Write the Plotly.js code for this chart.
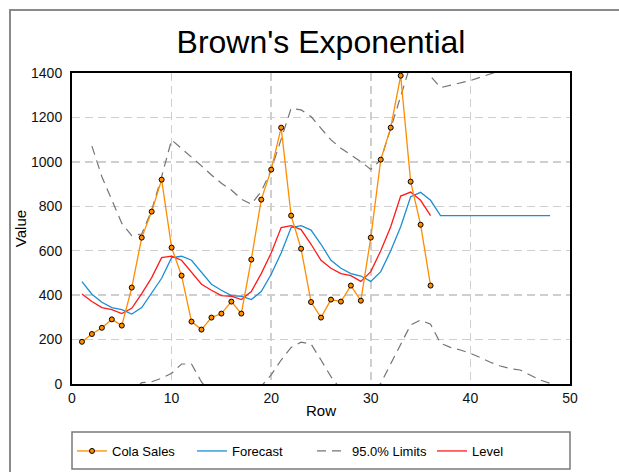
<!DOCTYPE html>
<html>
<head>
<meta charset="utf-8">
<script src="https://cdn.plot.ly/plotly-3.0.1.min.js"></script>
<style>html,body{margin:0;padding:0;background:#fff;}#chart{width:619px;height:472px;}</style>
</head>
<body>
<div id="chart"></div>
<script>
var salesRows = [1,2,3,4,5,6,7,8,9,10,11,12,13,14,15,16,17,18,19,20,21,22,23,24,25,26,27,28,29,30,31,32,33,34,35,36];
var colaSales = [190,225,253,291,263,434,659,776,920,614,488,281,245,299,317,371,317,560,830,965,1154,758,609,369,299,380,371,443,375,659,1010,1154,1388,911,717,443];
var levelVals = [405,371,344,335,317,341,407,479,569,576,557,503,449,422,398,395,380,416,497,590,704,713,695,629,557,521,497,488,462,506,600,708,846,864,827,758];

var forecastRows = [1,2,3,4,5,6,7,8,9,10,11,12,13,14,15,16,17,18,19,20,21,22,23,24,25,26,27,28,29,30,31,32,33,34,35,36,37,38,39,40,41,42,43,44,45,46,47,48];
var forecastVals = [461,404,368,344,335,315,344,408,476,569,575,557,503,449,422,398,395,380,416,494,590,704,713,693,629,557,521,497,486,462,506,600,708,843,863,827,758,758,758,758,758,758,758,758,758,758,758,758];

var limitRows = [2,3,4,5,6,7,8,9,10,11,12,13,14,15,16,17,18,19,20,21,22,23,24,25,26,27,28,29,30,31,32,33,34,35,36,37,38,39,40,41,42,43,44,45,46,47,48];
var upperLimit = [1071,933,828,723,668,675,783,933,1099,1061,1024,982,941,904,873,832,810,866,964,1099,1241,1234,1204,1151,1099,1061,1031,1001,966,1009,1150,1300,1440,1445,1385,1334,1345,1355,1366,1381,1396,1410,1425,1440,1455,1470,1485];
var lowerLimit = [-263,-197,-140,-53,-38,6,10,26,48,90,90,9,-43,-60,-77,-42,-50,-10,41,108,165,188,180,108,33,-25,-37,-29,-42,3,93,176,266,288,269,183,165,153,138,119,98,81,69,63,41,18,3];

var xTicks = [0,10,20,30,40,50];
var yTicks = [0,200,400,600,800,1000,1200,1400];

var FONT = 'Liberation Sans, Arial, sans-serif';
var limitDash = '9px,6px';

var traces = [
  {x: limitRows, y: upperLimit, type: 'scatter', mode: 'lines', name: '95.0% Limits',
   line: {color: '#747474', width: 1.2, dash: limitDash}, legendrank: 3, showlegend: true},
  {x: limitRows, y: lowerLimit, type: 'scatter', mode: 'lines', name: '95.0% Limits',
   line: {color: '#747474', width: 1.2, dash: limitDash}, legendrank: 3, showlegend: false},
  {x: forecastRows, y: forecastVals, type: 'scatter', mode: 'lines', name: 'Forecast',
   line: {color: '#1C8ED4', width: 1.3}, legendrank: 2},
  {x: salesRows, y: levelVals, type: 'scatter', mode: 'lines', name: 'Level',
   line: {color: '#FF1A1A', width: 1.3}, legendrank: 4},
  {x: salesRows, y: colaSales, type: 'scatter', mode: 'lines+markers', name: 'Cola Sales',
   line: {color: '#FF8C00', width: 1.3},
   marker: {color: '#FF8C00', size: 5, line: {color: '#000', width: 1}}, legendrank: 1}
];

var layout = {
  width: 619, height: 472,
  margin: {l: 72, r: 49, t: 73, b: 88, autoexpand: false},
  paper_bgcolor: '#fff', plot_bgcolor: '#fff',
  font: {family: FONT, size: 12, color: '#111'},
  title: {text: "Brown's Exponential", font: {family: FONT, size: 32, color: '#000'},
          x: 0.5, xref: 'paper', xanchor: 'center', y: 1 - 42/472, yanchor: 'middle'},
  xaxis: {range: [0, 50], tickvals: xTicks, ticktext: xTicks.map(String),
          showgrid: true, gridcolor: '#cfcfcf', griddash: '8px,5px', gridwidth: 1.5,
          zeroline: false, showline: true, linecolor: '#000', linewidth: 2, mirror: true,
          ticks: '', tickfont: {size: 14, color: '#111'},
          title: {text: 'Row', font: {size: 15, color: '#000'}, standoff: 1}},
  yaxis: {range: [0, 1400], tickvals: yTicks, ticktext: yTicks.map(String),
          showgrid: true, gridcolor: '#cfcfcf', griddash: '8px,5px', gridwidth: 1.5,
          zeroline: false, showline: true, linecolor: '#000', linewidth: 2, mirror: true,
          ticks: '', tickfont: {size: 14, color: '#111'}, ticklabelstandoff: 5,
          title: {text: 'Value', font: {size: 15, color: '#000'}, standoff: 1}},
  showlegend: true,
  legend: {orientation: 'h', x: 0.0, xanchor: 'left', y: -(451 - 384) / 311, yanchor: 'middle',
           bgcolor: 'rgba(0,0,0,0)', borderwidth: 0, itemwidth: 30,
           entrywidth: 75, entrywidthmode: 'pixels',
           font: {family: FONT, size: 13, color: '#000'}, tracegroupgap: 0},
  shapes: [
    {type: 'rect', xref: 'paper', yref: 'paper', x0: 0, x1: 1,
     y0: -(469 - 384) / 311, y1: -(432 - 384) / 311,
     line: {color: '#7a7a7a', width: 1.5}, fillcolor: 'rgba(0,0,0,0)', layer: 'below'},
    {type: 'rect', xref: 'paper', yref: 'paper', x0: (10 - 72) / 498, x1: 1.3,
     y0: -0.5, y1: 1 + (73 - 10) / 311,
     line: {color: '#8a8a8a', width: 2}, fillcolor: 'rgba(0,0,0,0)', layer: 'below'}
  ]
};

Plotly.newPlot('chart', traces, layout, {displayModeBar: false, staticPlot: true});
</script>
</body>
</html>
